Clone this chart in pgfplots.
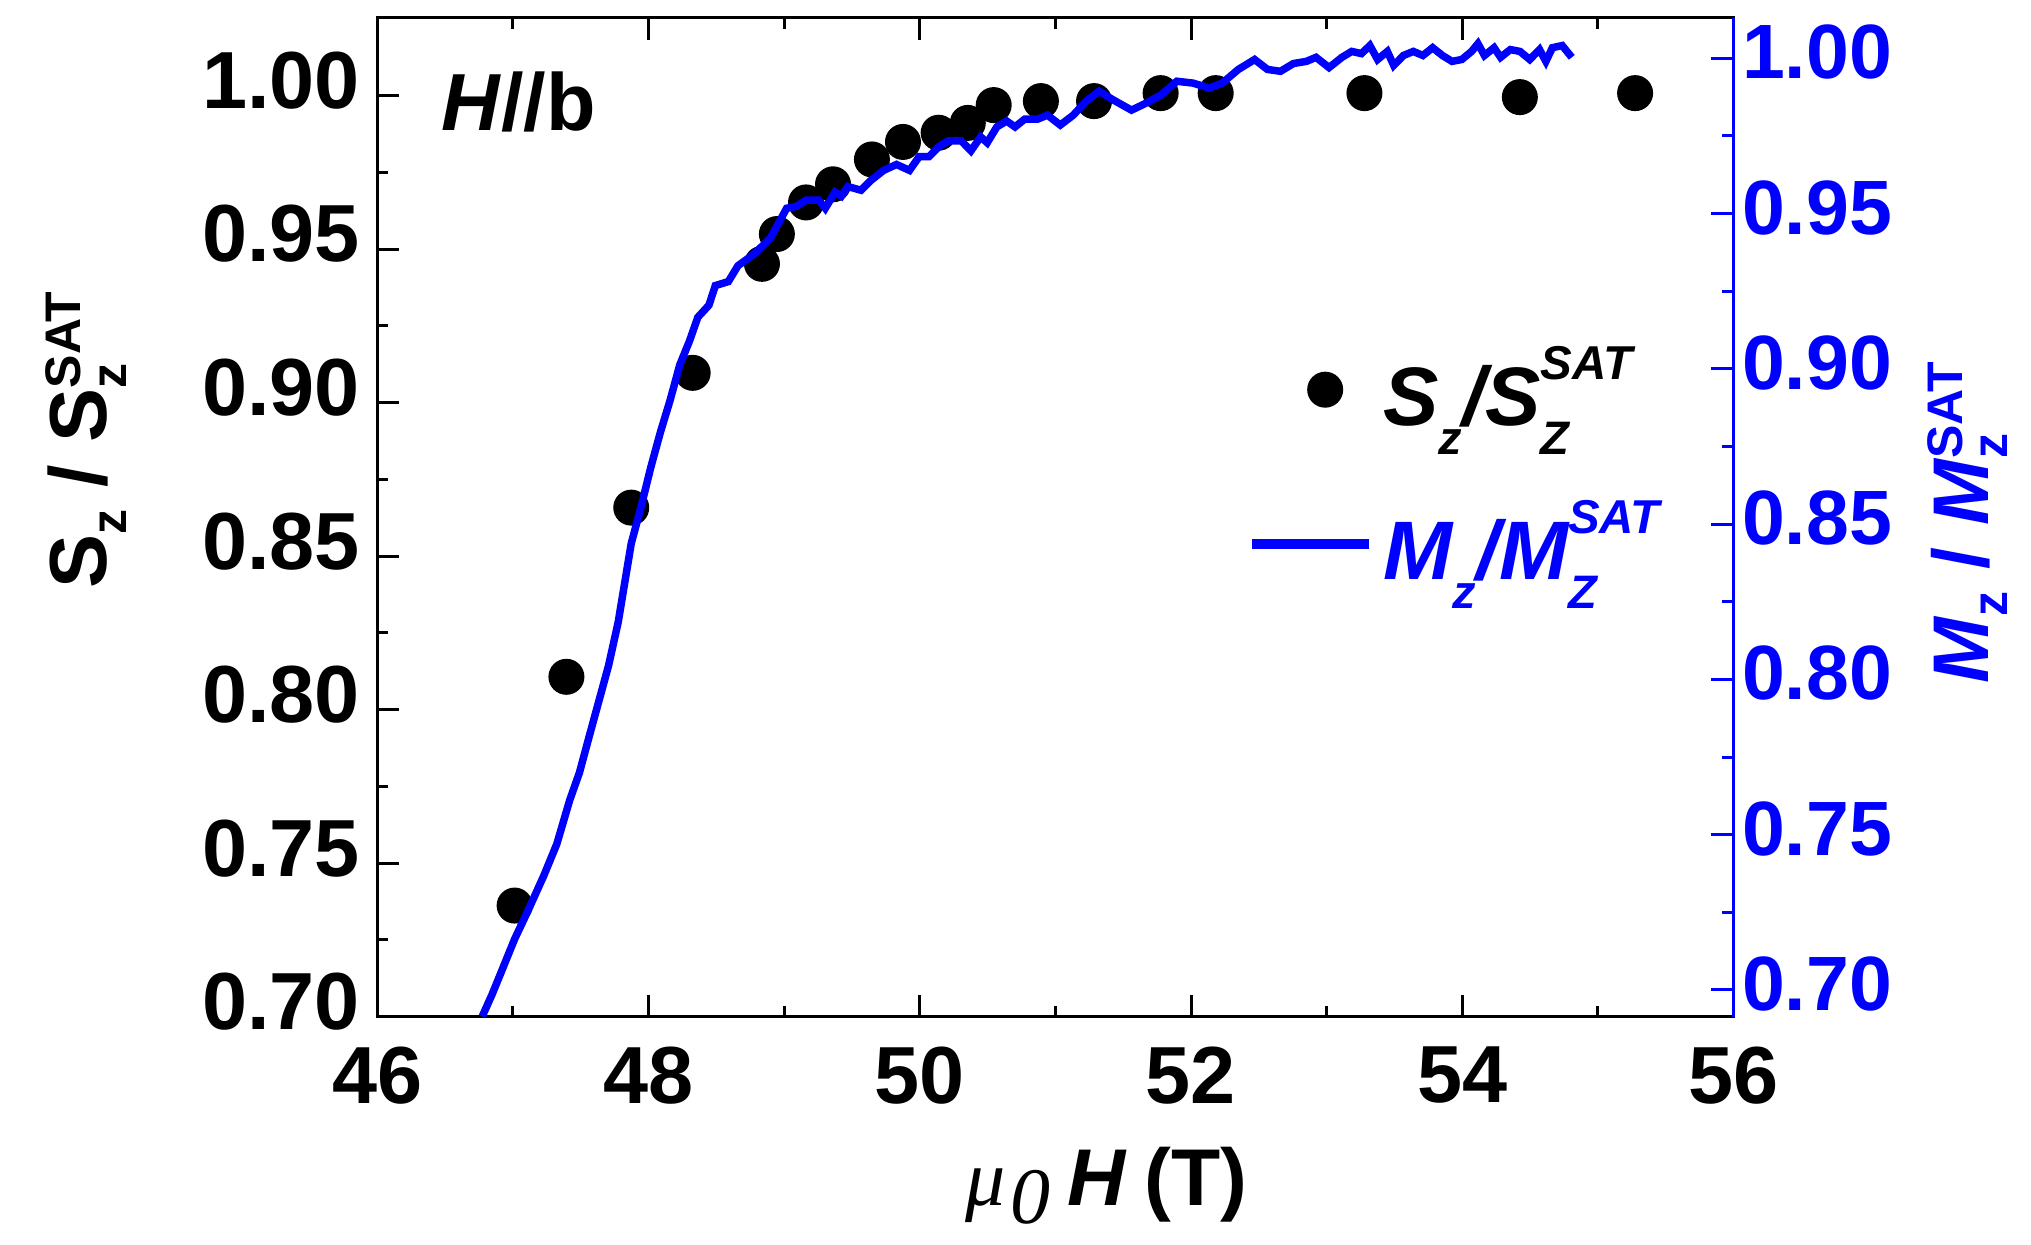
\documentclass[border=0pt]{standalone}
\usepackage{fontspec}
\setmainfont{Liberation Sans}
\newfontfamily\serifit{Liberation Serif}
\usepackage{pgfplots}
\usepackage{pgfplotstable}
\pgfplotsset{compat=1.18}

\newcommand{\LegSS}[2]{\rlap{\raisebox{-5.9pt}{\fontsize{9.4}{10}\selectfont #2}}\raisebox{9.1pt}{\fontsize{9.5}{10}\selectfont #1}}
\newcommand{\LegSub}[1]{\raisebox{-5.9pt}{\fontsize{9.4}{10}\selectfont #1}}
\newcommand{\LabSS}[2]{\rlap{\raisebox{-3.9pt}{\fontsize{10}{12}\selectfont #2}}\raisebox{5.2pt}{\fontsize{10}{12}\selectfont #1}}
\newcommand{\LabSub}[1]{\raisebox{-3.9pt}{\fontsize{10}{12}\selectfont #1}}

\pgfplotstableread{
x y
47.012 0.7362
47.394 0.8107
47.872 0.8658
48.325 0.9097
48.836 0.9452
48.946 0.9549
49.161 0.9652
49.360 0.9711
49.647 0.9792
49.876 0.9849
50.139 0.9879
50.354 0.9911
50.545 0.9969
50.893 0.9982
51.285 0.9982
51.776 1.0008
52.182 1.0008
53.279 1.0008
54.425 0.9995
55.275 1.0008
}\sdata

\pgfplotstableread{
x y
46.773 0.6915
46.845 0.6985
46.917 0.7062
47.012 0.7164
47.108 0.7253
47.227 0.7368
47.323 0.7470
47.418 0.7611
47.490 0.7700
47.561 0.7815
47.633 0.7930
47.705 0.8045
47.776 0.8185
47.872 0.8438
47.943 0.8553
48.015 0.8681
48.087 0.8796
48.158 0.8898
48.230 0.9013
48.301 0.9089
48.363 0.9166
48.445 0.9205
48.492 0.9268
48.588 0.9281
48.659 0.9332
48.779 0.9370
48.898 0.9421
49.018 0.9517
49.089 0.9523
49.161 0.9543
49.255 0.9543
49.303 0.9517
49.375 0.9569
49.422 0.9556
49.470 0.9587
49.566 0.9575
49.637 0.9606
49.733 0.9639
49.828 0.9658
49.924 0.9639
49.995 0.9683
50.067 0.9683
50.139 0.9715
50.210 0.9734
50.306 0.9734
50.377 0.9702
50.449 0.9747
50.497 0.9728
50.568 0.9779
50.640 0.9798
50.702 0.9779
50.774 0.9804
50.869 0.9804
50.941 0.9817
51.036 0.9785
51.132 0.9817
51.227 0.9862
51.323 0.9894
51.418 0.9868
51.561 0.9833
51.657 0.9853
51.776 0.9881
51.896 0.9926
52.015 0.9920
52.134 0.9904
52.230 0.9920
52.349 0.9964
52.469 0.9996
52.564 0.9964
52.660 0.9958
52.755 0.9983
52.851 0.9990
52.922 1.0003
53.018 0.9970
53.113 1.0003
53.185 1.0022
53.257 1.0015
53.319 1.0041
53.376 0.9996
53.448 1.0022
53.495 0.9977
53.567 1.0009
53.639 1.0022
53.710 1.0009
53.782 1.0034
53.854 1.0009
53.925 0.9990
53.997 0.9996
54.069 1.0022
54.116 1.0047
54.164 1.0009
54.235 1.0034
54.283 1.0003
54.355 1.0028
54.426 1.0022
54.498 0.9996
54.570 1.0028
54.617 0.9990
54.665 1.0034
54.737 1.0041
54.808 1.0003
}\mdata

\begin{document}
\begin{tikzpicture}
\pgfplotsset{
  common/.style={
    width=271.2pt, height=199.76pt, scale only axis,
    at={(0pt,0pt)}, anchor=south west,
    xmin=46, xmax=56,
    tick label style={font=\fontsize{16.2}{19}\selectfont\bfseries},
    /pgf/number format/assume math mode=true,
    major tick length=4.4pt, minor tick length=2.2pt,
  }
}
\begin{axis}[common,
  ymin=0.70, ymax=1.0253,
  xtick={46,48,50,52,54,56}, minor x tick num=1,
  ytick={0.70,0.75,0.80,0.85,0.90,0.95,1.00}, minor y tick num=1,
  xtick pos=both, ytick pos=left,
  yticklabel style={/pgf/number format/.cd, fixed, fixed zerofill, precision=2, /tikz/.cd, yshift=3pt},
  xticklabel style={yshift=-2.5pt},
  axis line style={line width=0.64pt},
  tick style={black, line width=0.6pt},
  tick align=inside,
]
\addplot[only marks, mark=*, mark size=3.4pt, black] table {\sdata};
\end{axis}
\begin{axis}[common,
  ymin=0.6914, ymax=1.013,
  axis x line=none, axis y line*=right,
  ytick={0.70,0.75,0.80,0.85,0.90,0.95,1.00}, minor y tick num=1,
  yticklabel style={blue, font=\fontsize{15.4}{18}\selectfont\bfseries, /pgf/number format/.cd, fixed, fixed zerofill, precision=2, /tikz/.cd, xshift=-1.8pt, yshift=1.2pt},
  y axis line style={blue, line width=0.64pt, -},
  tick style={blue, line width=0.6pt},
  tick align=inside,
  legend cell align=left,
  legend style={draw=none, fill=none, at={(0.6405,0.5506)}, anchor=west, inner sep=0pt,
    row sep=13.6pt, column sep=1.8pt, font=\fontsize{16.6}{19}\selectfont\bfseries\itshape,
    nodes={inner sep=0pt}},
]
\addlegendimage{only marks, mark=*, mark size=3.4pt, black,
  legend image code/.code={\path[draw=none,fill=none] (0pt,0pt) -- (23.4pt,0pt); \fill[black] (14.6pt,0pt) circle[radius=3.4pt];}}
\addlegendentry{S\LegSub{z}/S\LegSS{SAT}{Z}}
\addplot[blue, line width=1.5pt,
  legend image code/.code={\draw[blue, line width=2.1pt] (0pt,0pt) -- (23.4pt,0pt);}] table {\mdata};
\addlegendentry{\textcolor{blue}{M\LegSub{z}/M\LegSS{SAT}{Z}}}
\end{axis}
\node[anchor=base west, font=\fontsize{16.2}{19}\selectfont\bfseries] at (9.3pt,177.2pt) {\textit{H}//b};
\node[rotate=90, anchor=base, font=\fontsize{16.2}{19}\selectfont\bfseries] at (-54.1pt,115.3pt) {S\LabSub{z} / S\LabSS{SAT}{z}};
\node[rotate=90, anchor=base, text=blue, font=\fontsize{15.8}{19}\selectfont\bfseries] at (322.2pt,98.7pt) {\textit{M}\LabSub{z} / \textit{M}\LabSS{SAT}{z}};
\node[anchor=base, font=\fontsize{16.1}{19}\selectfont\bfseries] at (145.8pt,-37.7pt) {{\serifit\mdseries\itshape\fontsize{16}{19}\selectfont μ\kern1pt\raisebox{-3.6pt}{0}}\hspace{3.5pt}\textit{H}\hspace{3.5pt}(T)};
\pgfresetboundingbox
\path (-75.48pt,-45.46pt) rectangle (330.72pt,203.34pt);
\end{tikzpicture}
\end{document}
